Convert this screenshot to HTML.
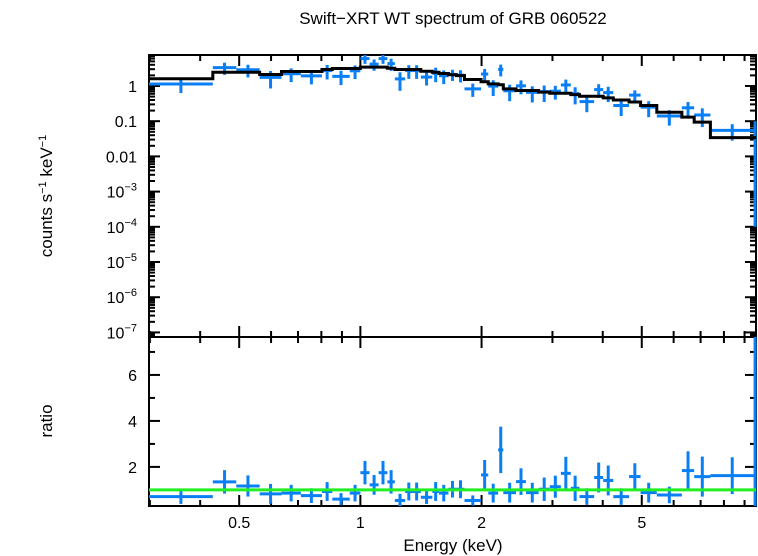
<!DOCTYPE html>
<html><head><meta charset="utf-8"><style>
body{margin:0;background:#fff;}
svg{display:block;font-family:"Liberation Sans",sans-serif;}
</style></head><body>
<svg id="chart" width="758" height="556" viewBox="0 0 758 556" xmlns="http://www.w3.org/2000/svg">
<text x="453" y="24" font-size="17" text-anchor="middle">Swift−XRT WT spectrum of GRB 060522</text>
<text transform="translate(52,196) rotate(-90)" font-size="17" text-anchor="middle">counts s<tspan font-size="11" dy="-6">−1</tspan><tspan dy="6"> keV</tspan><tspan font-size="11" dy="-6">−1</tspan></text>
<text transform="translate(52,421) rotate(-90)" font-size="17" text-anchor="middle">ratio</text>
<text x="453" y="551" font-size="17" text-anchor="middle">Energy (keV)</text>
<g id="g"></g>
</svg>
<script>
const edges=[0.2985,0.430,0.4917,0.5621,0.6368,0.7114,0.8027,0.8517,0.9410,1.000,1.054,1.110,1.167,1.218,1.292,1.347,1.413,1.509,1.568,1.655,1.733,1.814,1.994,2.078,2.199,2.265,2.436,2.578,2.772,2.954,3.148,3.332,3.502,3.808,4.010,4.248,4.650,4.966,5.449,6.289,6.748,7.404,9.504,9.72];
const flux=[1.14,3.32,2.88,1.76,2.22,1.94,2.74,1.88,2.70,6.0,4.18,6.0,4.32,1.59,2.74,2.74,1.79,2.29,1.95,2.14,2.03,0.83,2.18,0.99,2.96,0.73,1.01,0.66,0.69,0.71,1.07,0.61,0.36,0.79,0.65,0.28,0.55,0.25,0.14,0.24,0.15,0.055,0.05];
const fluxErr=[0.51,1.25,1.13,0.91,0.93,0.83,1.21,0.82,1.13,1.75,1.47,1.75,1.63,0.86,1.15,1.15,0.76,1.01,0.82,0.75,0.77,0.34,0.86,0.47,1.09,0.36,0.43,0.32,0.34,0.30,0.45,0.31,0.18,0.33,0.30,0.14,0.20,0.12,0.065,0.11,0.082,0.027,0.0499];
const model=[1.6,2.46,2.46,2.12,2.58,2.58,2.95,3.14,3.14,3.43,3.43,3.43,3.2,2.95,2.95,2.95,2.63,2.46,2.27,2.08,1.97,1.53,1.32,1.15,1.08,0.83,0.745,0.745,0.667,0.62,0.62,0.57,0.51,0.51,0.46,0.40,0.35,0.28,0.18,0.13,0.094,0.034,0.034];
const ratio=[0.71,1.35,1.17,0.83,0.86,0.75,0.93,0.6,0.86,1.75,1.22,1.75,1.35,0.54,0.93,0.93,0.68,0.93,0.86,1.03,1.03,0.54,1.65,0.86,2.74,0.88,1.36,0.88,1.03,1.14,1.72,1.07,0.71,1.54,1.41,0.71,1.58,0.88,0.78,1.84,1.58,1.62,4.0];
const ratioErr=[0.32,0.51,0.46,0.43,0.36,0.32,0.41,0.26,0.36,0.51,0.43,0.51,0.51,0.29,0.39,0.39,0.29,0.41,0.36,0.36,0.39,0.22,0.65,0.41,1.01,0.43,0.58,0.43,0.51,0.48,0.72,0.55,0.36,0.65,0.65,0.36,0.58,0.43,0.36,0.84,0.87,0.8,4.5];
const xTickVals=[0.5,1,2,5];
const xTickLabels=["0.5","1","2","5"];
const topTickExp=[0,-1,-2,-3,-4,-5,-6,-7];
const ratioTicks=[2,4,6];

const L=149,R=756,T1=55,B1=337,T2=337,B2=506;
const XMIN=0.2985,XMAX=9.61,LYMAX=0.88,LYMIN=-7.13,RMIN=0.3,RMAX=7.65;
const ns="http://www.w3.org/2000/svg";
const g=document.getElementById('g');
function X(e){return L+(Math.log10(e)-Math.log10(XMIN))/(Math.log10(XMAX)-Math.log10(XMIN))*(R-L);}
function Y1(v){let l=v>0?Math.log10(v):-99;l=Math.max(LYMIN,Math.min(LYMAX,l));return T1+(LYMAX-l)/(LYMAX-LYMIN)*(B1-T1);}
function Y2(v){v=Math.max(RMIN,Math.min(RMAX,v));return T2+(RMAX-v)/(RMAX-RMIN)*(B2-T2);}
function el(tag,attrs){const e=document.createElementNS(ns,tag);for(const k in attrs)e.setAttribute(k,attrs[k]);g.appendChild(e);return e;}
function line(x1,y1,x2,y2,c,w){return el('line',{x1:x1,y1:y1,x2:x2,y2:y2,stroke:c,'stroke-width':w});}

for(const [t,b,n] of [[T1,B1,'top-panel-frame'],[T2,B2,'bottom-panel-frame']]){
  const r=el('rect',{x:L,y:t,width:R-L,height:b-t,fill:'none',stroke:'#000','stroke-width':2});
  
  
}
for(let d=-1;d<=0;d++)for(let m=1;m<=9;m++){
  const e=m*Math.pow(10,d); if(e<XMIN||e>XMAX)continue;
  const maj=(d===-1&&m===5)||(d===0&&(m===1||m===2||m===5));
  const len=maj?11:6;
  for(const [t,b] of [[T1,B1],[T2,B2]]){
    const x=X(e);
    line(x,t,x,t+len,'#000',2);line(x,b,x,b-len,'#000',2);
  }
}
xTickVals.forEach((v,i)=>{const t=el('text',{x:X(v),y:528,'font-size':16,'text-anchor':'middle'});t.textContent=xTickLabels[i];

});
for(let d=-8;d<=0;d++)for(let m=1;m<=9;m++){
  const v=m*Math.pow(10,d);const l=Math.log10(v);if(l<LYMIN||l>LYMAX)continue;
  const len=m===1?11:6;const y=Y1(v);
  line(L,y,L+len,y,'#000',2);line(R,y,R-len,y,'#000',2);
}
topTickExp.forEach(p=>{
  const y=Y1(Math.pow(10,p))+6;
  const t=el('text',{x:137,y:y,'font-size':16,'text-anchor':'end'});
  
  
  if(p===0)t.textContent='1';else if(p===-1)t.textContent='0.1';else if(p===-2)t.textContent='0.01';
  else t.innerHTML='10<tspan font-size="11" dy="-7">'+'−'+(-p)+'</tspan>';
});
for(let v=1;v<=7;v++){const y=Y2(v);const len=v%2===0?11:6;line(L,y,L+len,y,'#000',2);line(R,y,R-len,y,'#000',2);}
ratioTicks.forEach(v=>{const t=el('text',{x:137,y:Y2(v)+6,'font-size':16,'text-anchor':'end'});t.textContent=String(v);

});

const blue='#0a7ff5';
for(let i=0;i<flux.length;i++){
  const lo=edges[i],hi=Math.min(edges[i+1],XMAX),c=Math.min(Math.sqrt(edges[i]*edges[i+1]),XMAX-0.05);
  const gg=document.createElementNS(ns,'g');g.appendChild(gg);
  
  
  const y=Y1(flux[i]);
  const a=line(X(lo),y,X(hi),y,blue,3);const b=line(X(c),Y1(flux[i]+fluxErr[i]),X(c),Y1(flux[i]-fluxErr[i]),blue,3);
  gg.appendChild(a);gg.appendChild(b);
}
let d='';
for(let i=0;i<model.length;i++){const x1=X(edges[i]),x2=X(Math.min(edges[i+1],XMAX)),y=Y1(model[i]);d+=(i===0?'M':'L')+x1+','+y+'L'+x2+','+y;}
const mp=el('path',{d:d,fill:'none',stroke:'#000','stroke-width':3});


for(let i=0;i<ratio.length;i++){
  const lo=edges[i],hi=Math.min(edges[i+1],XMAX),c=Math.min(Math.sqrt(edges[i]*edges[i+1]),XMAX-0.05);
  const gg=document.createElementNS(ns,'g');g.appendChild(gg);
  
  
  const y=Y2(ratio[i]);
  gg.appendChild(line(X(lo),y,X(hi),y,blue,3));
  gg.appendChild(line(X(c),Y2(ratio[i]+ratioErr[i]),X(c),Y2(ratio[i]-ratioErr[i]),blue,3));
}
const gl=line(L,Y2(1),R,Y2(1),'#22ee22',3);


</script>
</body></html>
